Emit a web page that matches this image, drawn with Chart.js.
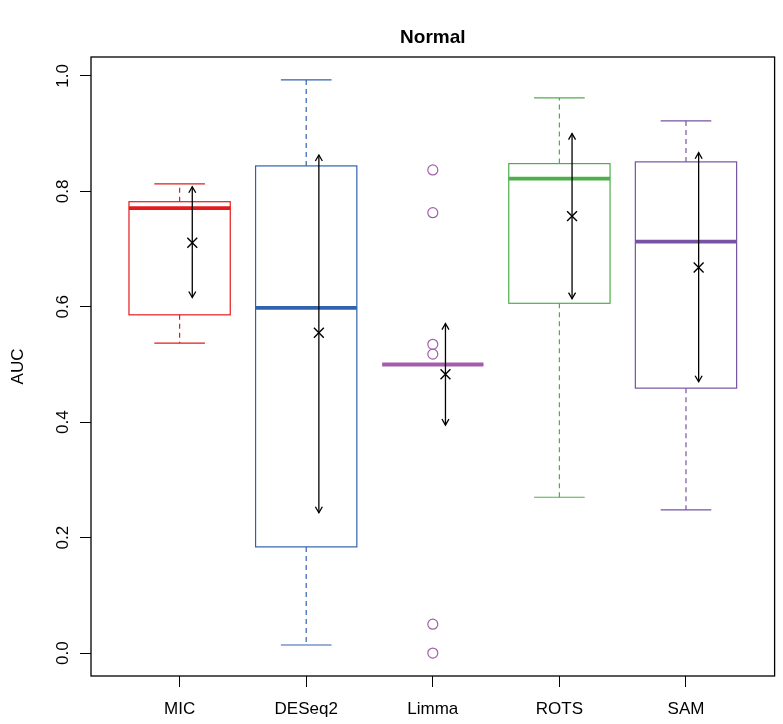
<!DOCTYPE html>
<html>
<head>
<meta charset="utf-8">
<script src="https://cdn.jsdelivr.net/npm/chart.js@4.4.1/dist/chart.umd.min.js"></script>
<style>
html, body { margin: 0; padding: 0; background: #fff; }
</style>
</head>
<body>
<canvas id="myChart" width="783" height="724"></canvas>
<script>
var categories = ['MIC', 'DESeq2', 'Limma', 'ROTS', 'SAM'];
var colors = ['#E41A1C', '#3262AE', '#A35EAB', '#4DAF4A', '#7654A3'];

// five-number summaries
var whisker_low  = [0.537, 0.014, 0.500, 0.270, 0.248];
var q1           = [0.586, 0.184, 0.500, 0.606, 0.459];
var medians      = [0.771, 0.598, 0.500, 0.822, 0.713];
var q3           = [0.782, 0.844, 0.500, 0.848, 0.851];
var whisker_high = [0.813, 0.993, 0.500, 0.962, 0.922];

// mean +- sd (the arrows and the crosses)
var means   = [0.711, 0.555, 0.483, 0.757, 0.668];
var sd_low  = [0.616, 0.243, 0.395, 0.614, 0.470];
var sd_high = [0.808, 0.863, 0.571, 0.900, 0.867];

var limma_outliers = [0.837, 0.763, 0.535, 0.518, 0.050, 0.000];
var y_ticks = [0, 0.2, 0.4, 0.6, 0.8, 1.0];

var FONT = '"Liberation Sans", Arial, Helvetica, sans-serif';
var box_wex = 0.8, arrow_shift = 0.1;

var mean_points = means.map(function(m, i) { return {x: i + 1 + arrow_shift, y: m}; });
var outlier_points = limma_outliers.map(function(v) { return {x: 3, y: v}; });

function arrow_head(c, x, y, dir) {
	// dir: -1 pointing up, 1 pointing down
	let len = 7, ang = Math.PI / 6;
	c.beginPath();
	c.moveTo(x - len * Math.sin(ang), y - dir * len * Math.cos(ang));
	c.lineTo(x, y);
	c.lineTo(x + len * Math.sin(ang), y - dir * len * Math.cos(ang));
	c.stroke();
}

var boxPlugin = {
	id: 'boxes',
	beforeDatasetsDraw: function(chart) {
		let c = chart.ctx, xs = chart.scales.x, ys = chart.scales.y;
		c.save();
		for (let i = 0; i < categories.length; i++) {
			let cx = xs.getPixelForValue(i + 1);
			let hw = xs.getPixelForValue(i + 1 + box_wex / 2) - cx;
			let cw = hw / 2;
			c.strokeStyle = colors[i];
			// whiskers
			c.lineWidth = 1.2;
			c.setLineDash([5, 4]);
			c.beginPath();
			c.moveTo(cx, ys.getPixelForValue(q3[i]));
			c.lineTo(cx, ys.getPixelForValue(whisker_high[i]));
			c.moveTo(cx, ys.getPixelForValue(q1[i]));
			c.lineTo(cx, ys.getPixelForValue(whisker_low[i]));
			c.stroke();
			c.setLineDash([]);
			// caps
			c.beginPath();
			c.moveTo(cx - cw, ys.getPixelForValue(whisker_high[i]));
			c.lineTo(cx + cw, ys.getPixelForValue(whisker_high[i]));
			c.moveTo(cx - cw, ys.getPixelForValue(whisker_low[i]));
			c.lineTo(cx + cw, ys.getPixelForValue(whisker_low[i]));
			c.stroke();
			// box
			let top = ys.getPixelForValue(q3[i]), bot = ys.getPixelForValue(q1[i]);
			c.lineWidth = 1.2;
			c.strokeRect(cx - hw, top, hw * 2, bot - top);
			// median
			c.lineWidth = 3.8;
			c.beginPath();
			c.moveTo(cx - hw, ys.getPixelForValue(medians[i]));
			c.lineTo(cx + hw, ys.getPixelForValue(medians[i]));
			c.stroke();
		}
		// mean +- sd arrows
		c.strokeStyle = '#000';
		c.lineWidth = 1.3;
		for (let i = 0; i < categories.length; i++) {
			let ax = xs.getPixelForValue(i + 1 + arrow_shift);
			let yt = ys.getPixelForValue(sd_high[i]), yb = ys.getPixelForValue(sd_low[i]);
			c.beginPath();
			c.moveTo(ax, yt);
			c.lineTo(ax, yb);
			c.stroke();
			arrow_head(c, ax, yt, -1);
			arrow_head(c, ax, yb, 1);
		}
		c.restore();
	},
	afterDraw: function(chart) {
		let c = chart.ctx, a = chart.chartArea, ys = chart.scales.y;
		c.save();
		// frame
		c.strokeStyle = '#000';
		c.lineWidth = 1.3;
		c.strokeRect(a.left, a.top, a.right - a.left, a.bottom - a.top);
		// y tick labels, rotated like R
		c.fillStyle = '#000';
		c.font = '17px ' + FONT;
		c.textAlign = 'center';
		c.textBaseline = 'alphabetic';
		y_ticks.forEach(function(v) {
			c.save();
			c.translate(a.left - 23, ys.getPixelForValue(v));
			c.rotate(-Math.PI / 2);
			c.fillText(v.toFixed(1), 0, 0);
			c.restore();
		});
		// axis title
		c.save();
		c.translate(23, (a.top + a.bottom) / 2);
		c.rotate(-Math.PI / 2);
		c.fillText('AUC', 0, 0);
		c.restore();
		// main title
		c.font = 'bold 19px ' + FONT;
		c.textBaseline = 'middle';
		c.fillText('Normal', (a.left + a.right) / 2, 38);
		c.restore();
	}
};

var ctx = document.getElementById('myChart');
var chart = new Chart(ctx, {
	type: 'scatter',
	data: {
		datasets: [{
			label: 'outliers',
			data: outlier_points,
			pointStyle: 'circle',
			pointRadius: 5,
			pointBorderWidth: 1.2,
			borderColor: colors[2],
			backgroundColor: 'rgba(0,0,0,0)'
		}, {
			label: 'mean',
			data: mean_points,
			pointStyle: 'crossRot',
			pointRadius: 7,
			pointBorderWidth: 1.4,
			borderColor: '#000',
			backgroundColor: '#000'
		}]
	},
	options: {
		responsive: false,
		animation: false,
		devicePixelRatio: 1,
		layout: { padding: { top: 57, right: 1, left: 0, bottom: 0 } },
		plugins: {
			legend: { display: false },
			tooltip: { enabled: false },
			title: { display: false }
		},
		scales: {
			x: {
				type: 'linear',
				min: 0.3,
				max: 5.7,
				border: { display: false },
				grid: { drawOnChartArea: false, drawTicks: true, tickLength: 11, color: '#000', lineWidth: 1 },
				afterBuildTicks: function(s) { s.ticks = categories.map(function(c, i) { return {value: i + 1}; }); },
				afterFit: function(s) { s.height = 48; },
				ticks: {
					color: '#000',
					padding: 12,
					font: { family: FONT, size: 17 },
					maxRotation: 0,
					callback: function(v) { return categories[Math.round(v) - 1]; }
				}
			},
			y: {
				min: -0.0397,
				max: 1.0327,
				border: { display: false },
				grid: { drawOnChartArea: false, drawTicks: true, tickLength: 11, color: '#000', lineWidth: 1 },
				afterBuildTicks: function(s) { s.ticks = y_ticks.map(function(v) { return {value: v}; }); },
				afterFit: function(s) { s.width = 91; },
				ticks: { display: false }
			}
		}
	},
	plugins: [boxPlugin]
});
</script>
</body>
</html>
